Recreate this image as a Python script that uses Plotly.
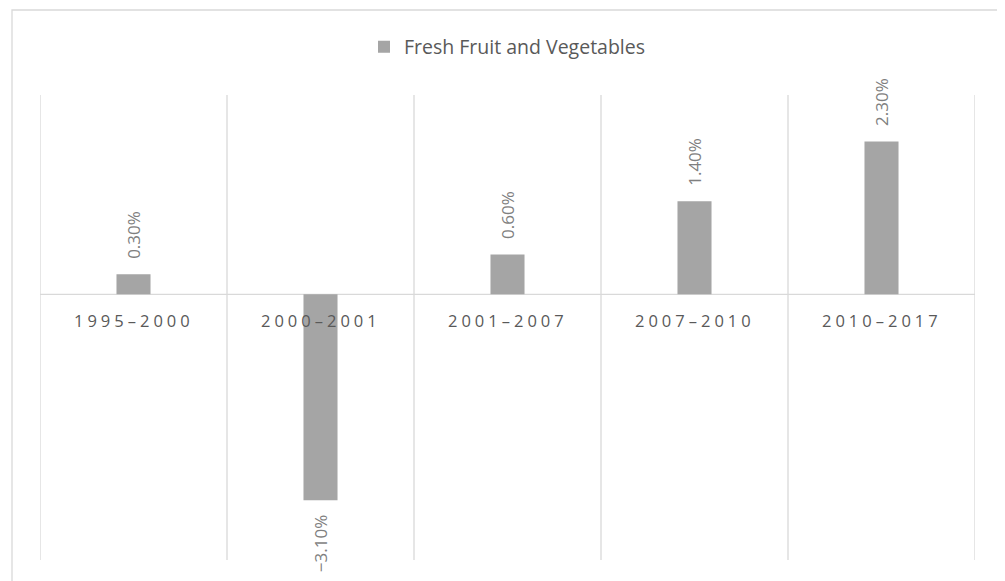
import plotly.graph_objects as go

categories = ["1995–2000", "2000–2001", "2001–2007", "2007–2010", "2010–2017"]
values = [0.3, -3.1, 0.6, 1.4, 2.3]
series_name = "Fresh Fruit and Vegetables"

x_pos = list(range(len(categories)))
labels = [(f"{v:.2f}%").replace("-", "−") for v in values]

fig = go.Figure()
fig.add_trace(go.Bar(
    x=x_pos, y=values, name=series_name,
    marker=dict(color="#a5a5a5", line=dict(width=0)),
    width=0.182,
))

for i, (v, t) in enumerate(zip(values, labels)):
    fig.add_annotation(x=i, y=v, xref="x", yref="y", text=t, showarrow=False, textangle=-90,
                       yanchor="bottom" if v >= 0 else "top", yshift=13 if v >= 0 else -13,
                       font=dict(color="#7f7f7f", size=17, family="Open Sans"))

# vertical category separators
for b in [i - 0.5 for i in range(len(categories) + 1)]:
    fig.add_shape(type="line", xref="x", yref="y", x0=b, x1=b, y0=-4, y1=3,
                  line=dict(color="#d9d9d9", width=1.3), layer="below")
# zero line
fig.add_shape(type="line", xref="x", yref="y", x0=-0.5, x1=len(categories) - 0.5, y0=0, y1=0,
              line=dict(color="#d9d9d9", width=1.3), layer="below")
# chart border
fig.add_shape(type="rect", xref="paper", yref="paper", x0=-28/935, x1=1 + 27/935,
              y0=-0.2, y1=1 + 85/465, line=dict(color="#d9d9d9", width=1.3))

for i, c in enumerate(categories):
    fig.add_annotation(x=i, y=0, xref="x", yref="y", text=f'<span style="letter-spacing:4px">{c}</span>',
                       showarrow=False, yanchor="top", yshift=-13,
                       font=dict(color="#595959", size=16.5, family="Open Sans"))

fig.update_layout(
    width=997, height=573,
    margin=dict(l=32, r=30, t=87, b=21),
    plot_bgcolor="white", paper_bgcolor="white",
    xaxis=dict(range=[-0.5, len(categories) - 0.5], visible=False),
    yaxis=dict(range=[-4, 3], visible=False),
    showlegend=True,
    legend=dict(orientation="h", x=0.5, xanchor="center", y=1 + 48/465, yanchor="middle",
                itemwidth=30,
                font=dict(color="#595959", size=19.5, family="Open Sans")),
)

fig.write_html("out.html")
